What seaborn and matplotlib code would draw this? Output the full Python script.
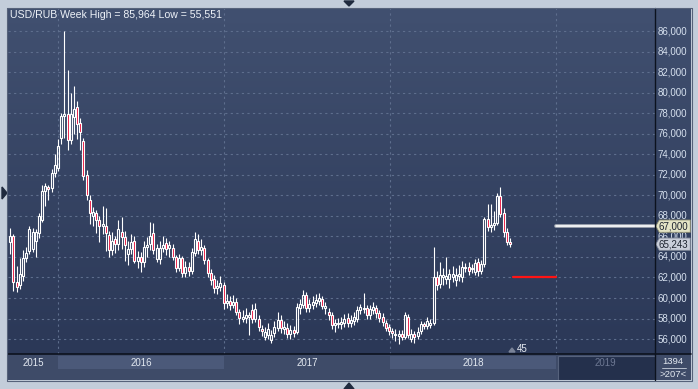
import numpy as np
import pandas as pd
import matplotlib
matplotlib.use("Agg")
import matplotlib.pyplot as plt
import matplotlib.dates as mdates
from matplotlib.colors import LinearSegmentedColormap
from matplotlib.patches import Polygon
from matplotlib.lines import Line2D
import seaborn as sns

# ---------------- data ----------------
start_date = "2015-09-18"
opens = [65.5, 66.0, 61.6, 61.3, 62.1, 63.9, 64.6, 64.8, 65.6, 66.3,
         67.6, 70.4, 70.8, 70.7, 72.2, 72.7, 75.6, 77.7, 77.9, 75.4,
         77.6, 78.6, 77.0, 75.3, 72.0, 69.5, 68.0, 68.3, 67.6, 67.0,
         67.0, 66.1, 64.7, 65.7, 65.3, 66.4, 65.9, 64.3, 64.8, 65.6,
         63.6, 64.0, 63.5, 65.0, 65.3, 66.3, 63.8, 63.8, 64.9, 65.4,
         64.9, 64.9, 64.0, 62.9, 63.9, 62.4, 63.0, 62.6, 64.4, 65.6,
         64.7, 64.9, 63.7, 62.4, 61.9, 61.0, 61.1, 61.3, 59.5, 59.7,
         59.3, 59.6, 58.6, 58.0, 58.1, 58.2, 58.8, 58.0, 58.0, 57.0,
         56.2, 56.4, 55.9, 56.6, 57.1, 57.9, 57.0, 57.1, 56.5, 56.9,
         56.7, 59.0, 59.3, 60.3, 59.0, 59.3, 59.5, 59.7, 59.9, 59.0,
         58.6, 58.3, 57.4, 57.5, 57.5, 57.6, 58.1, 57.6, 57.8, 58.0,
         58.8, 58.9, 59.0, 58.3, 58.8, 59.0, 58.5, 58.2, 57.6, 57.2,
         56.8, 56.4, 56.3, 56.5, 56.2, 58.2, 56.0, 56.5, 56.3, 56.8,
         57.5, 57.3, 57.4, 57.6, 62.0, 61.4, 62.0, 61.9, 61.9, 62.0,
         61.8, 62.1, 62.0, 62.9, 63.0, 62.8, 62.5, 63.5, 62.6, 63.3,
         67.7, 66.9, 67.1, 67.3, 69.9, 68.3, 66.4, 65.5]
highs = [66.8, 66.2, 63.1, 63.9, 64.7, 65.0, 67.0, 66.8, 66.7, 68.3,
         71.0, 71.2, 71.0, 72.6, 74.0, 75.5, 78.0, 85.964, 82.2, 80.0,
         80.6, 79.2, 77.5, 75.6, 72.5, 70.0, 68.9, 68.6, 68.0, 69.0,
         68.8, 66.5, 66.4, 66.0, 67.6, 67.9, 66.5, 65.6, 66.2, 66.0,
         64.6, 64.5, 65.6, 65.9, 67.4, 67.3, 65.3, 65.6, 66.0, 65.8,
         65.6, 65.3, 64.2, 64.3, 64.1, 63.6, 63.5, 64.9, 66.4, 66.2,
         65.7, 65.2, 63.9, 62.8, 62.2, 61.8, 62.1, 61.6, 60.4, 60.2,
         60.3, 60.0, 58.9, 58.8, 59.0, 58.6, 59.4, 59.5, 58.3, 57.4,
         57.2, 57.6, 56.9, 57.8, 58.6, 58.3, 57.8, 57.6, 57.4, 57.3,
         59.5, 59.9, 60.8, 60.6, 59.9, 60.2, 60.4, 60.5, 60.2, 59.6,
         59.0, 58.6, 58.0, 58.1, 58.2, 58.4, 58.5, 58.3, 58.6, 59.2,
         59.4, 60.5, 59.3, 59.3, 59.6, 59.3, 58.8, 58.5, 57.9, 57.5,
         57.1, 57.0, 56.9, 56.9, 58.6, 58.4, 57.0, 56.8, 57.2, 57.8,
         57.7, 58.2, 58.0, 65.0, 62.6, 63.5, 62.9, 64.0, 62.8, 63.1,
         62.9, 63.2, 63.6, 63.4, 63.5, 63.3, 63.8, 63.9, 63.7, 67.9,
         69.2, 69.2, 68.5, 70.2, 70.8, 68.8, 66.8, 65.8]
lows = [64.3, 60.7, 60.6, 60.9, 61.7, 63.5, 64.3, 64.5, 64.0, 65.8,
        67.4, 69.0, 69.5, 70.3, 71.8, 72.4, 75.0, 75.6, 74.4, 75.0,
        76.0, 75.5, 74.4, 71.5, 69.5, 67.2, 67.0, 66.3, 65.5, 66.2,
        64.6, 64.0, 64.2, 64.4, 64.7, 64.8, 63.6, 63.2, 64.3, 63.4,
        62.9, 62.5, 63.0, 64.0, 64.7, 64.3, 63.5, 63.3, 64.5, 64.2,
        64.0, 63.7, 62.5, 62.6, 62.0, 62.0, 62.1, 62.3, 64.1, 64.3,
        64.2, 63.3, 62.0, 61.3, 60.5, 60.4, 60.7, 58.9, 59.0, 58.8,
        59.0, 58.3, 57.5, 57.7, 57.6, 56.4, 57.6, 57.7, 56.8, 56.3,
        55.9, 56.0, 55.6, 56.2, 56.8, 56.6, 56.5, 56.1, 56.0, 56.2,
        56.5, 58.4, 59.0, 58.6, 58.6, 58.9, 59.1, 59.3, 58.9, 58.4,
        57.9, 57.0, 56.7, 57.1, 57.0, 57.2, 57.2, 57.2, 57.4, 57.7,
        58.4, 58.5, 58.0, 58.0, 58.4, 58.1, 57.7, 57.3, 56.8, 56.4,
        56.1, 55.8, 55.551, 55.9, 56.0, 56.1, 55.7, 55.6, 56.0, 56.5,
        57.0, 57.0, 57.1, 57.4, 60.8, 61.0, 61.3, 61.4, 61.0, 61.6,
        61.2, 61.7, 61.6, 62.5, 62.2, 62.4, 62.2, 62.1, 62.3, 63.0,
        66.5, 66.4, 66.6, 67.1, 67.9, 65.9, 65.2, 65.0]
closes = [66.0, 61.6, 61.1, 62.3, 63.9, 64.4, 66.7, 66.4, 66.4, 68.0,
          70.4, 70.9, 70.6, 72.2, 73.0, 74.8, 77.7, 77.9, 75.4, 77.9,
          78.4, 76.9, 76.2, 71.9, 70.0, 68.3, 68.4, 67.6, 67.0, 67.2,
          66.3, 64.7, 65.6, 65.3, 66.7, 65.9, 65.2, 64.8, 65.5, 63.6,
          64.0, 63.5, 65.0, 65.2, 66.0, 64.7, 64.9, 64.9, 65.2, 64.8,
          65.2, 64.0, 62.9, 63.9, 62.4, 63.0, 62.6, 64.5, 65.7, 64.7,
          65.0, 63.7, 62.4, 61.8, 61.0, 61.2, 61.5, 59.5, 59.7, 59.3,
          59.6, 58.6, 58.1, 58.2, 58.3, 58.3, 58.0, 58.9, 57.2, 56.8,
          56.7, 57.0, 56.4, 57.2, 57.9, 57.1, 57.2, 56.5, 56.9, 56.6,
          59.1, 59.4, 60.3, 59.0, 59.4, 59.6, 59.8, 60.0, 59.2, 59.2,
          58.3, 57.4, 57.6, 57.6, 57.7, 58.0, 57.6, 57.9, 58.2, 58.8,
          59.1, 59.0, 58.3, 58.9, 59.1, 58.5, 58.1, 57.7, 57.1, 56.8,
          56.6, 56.5, 56.5, 56.2, 58.3, 56.4, 56.5, 56.2, 56.7, 57.5,
          57.3, 57.8, 57.6, 62.0, 61.3, 62.2, 62.2, 62.1, 62.3, 62.3,
          62.2, 62.3, 63.0, 63.0, 62.6, 62.9, 63.4, 62.6, 63.3, 67.7,
          66.9, 67.1, 67.3, 69.9, 68.2, 66.4, 65.5, 65.243]

price_ticks = [56, 58, 60, 62, 64, 66, 68, 70, 72, 74, 76, 78, 80, 82, 84, 86]
year_names = ["2015", "2016", "2017", "2018", "2019"]
year_starts = ["2016-01-01", "2017-01-01", "2018-01-01", "2019-01-01"]
view_start, view_end = "2015-09-13", "2019-08-06"
level_red = {"start": "2018-09-28", "end": "2019-01-01", "price": 62.0}
level_white = {"start": "2019-01-01", "end": "2019-09-01", "price": 67.0}
last_price = 65.243
title = "USD/RUB Week High = 85,964 Low = 55,551"

# ---------------- figure ----------------
sns.set_theme(style="dark")
plt.rcParams["font.family"] = ["Liberation Sans", "DejaVu Sans"]

W, H = 698, 389
fig = plt.figure(figsize=(W / 100, H / 100), dpi=100)
fig.patch.set_facecolor("#c3cdda")


def fr(x0, y0, x1, y1):
    return [x0 / W, 1 - y1 / H, (x1 - x0) / W, (y1 - y0) / H]


def fx(x):
    return x / W


def fy(y):
    return 1 - y / H


ylo, yhi = 54.55, 88.24
x0n = mdates.date2num(pd.Timestamp(view_start))
x1n = mdates.date2num(pd.Timestamp(view_end))
bg = LinearSegmentedColormap.from_list("bg", ["#2b3857", "#415070"])
grad = np.linspace(0, 1, 256).reshape(-1, 1)

ax = fig.add_axes(fr(8, 8, 655, 354))
ax.imshow(grad, extent=[0, 1, 0, 1], transform=ax.transAxes, origin="lower",
          cmap=bg, aspect="auto", zorder=0)

df = pd.DataFrame({
    "date": pd.date_range(start_date, periods=len(closes), freq="7D"),
    "open": opens, "high": highs, "low": lows, "close": closes,
})
x = mdates.date2num(df["date"])
o = df["open"].to_numpy(); c = df["close"].to_numpy()
hi = df["high"].to_numpy(); lo = df["low"].to_numpy()
btop = np.maximum(o, c); bbot = np.minimum(o, c)
up = c >= o

ax.vlines(x, btop, hi, color="white", lw=0.8, zorder=3)
ax.vlines(x, lo, bbot, color="white", lw=0.8, zorder=3)
bw = 4.4
ax.bar(x[up], (btop - bbot)[up], bottom=bbot[up], width=bw, facecolor="none",
       edgecolor="white", linewidth=0.8, zorder=4)
ax.bar(x[~up], (btop - bbot)[~up], bottom=bbot[~up], width=bw, facecolor="#e8123c",
       edgecolor="white", linewidth=0.8, zorder=4)

red_df = pd.DataFrame({"x": mdates.date2num(pd.to_datetime([level_red["start"], level_red["end"]])),
                       "y": [level_red["price"]] * 2})
wh_df = pd.DataFrame({"x": mdates.date2num(pd.to_datetime([level_white["start"], level_white["end"]])),
                      "y": [level_white["price"]] * 2})
sns.lineplot(data=red_df, x="x", y="y", color="#ff1414", lw=1.6, ax=ax, zorder=5)
sns.lineplot(data=wh_df, x="x", y="y", color="#9aa1ad", lw=2.8, ax=ax, zorder=5)
sns.lineplot(data=wh_df, x="x", y="y", color="#ffffff", lw=1.2, ax=ax, zorder=6)

ax.set_xlim(x0n, x1n)
ax.set_ylim(ylo, yhi)
ax.set_yticks(price_ticks)
ax.set_xticks(mdates.date2num(pd.to_datetime(year_starts)))
ax.grid(True, color="#5e6e8d", linestyle=(0, (2, 3)), linewidth=0.8)
ax.tick_params(length=0, labelleft=False, labelbottom=False)
ax.set_xlabel(""); ax.set_ylabel("")
for s in ax.spines.values():
    s.set_visible(False)

# "45" marker
fig.text(fx(517), fy(349), "45", fontsize=7, color="#e6ebf2", va="center", ha="left")
fig.patches.append(Polygon([(fx(509), fy(352)), (fx(515), fy(352)), (fx(512), fy(348))],
                           closed=True, transform=fig.transFigure, color="#7a8398"))

# title
fig.text(fx(10), fy(15), title, fontsize=7.6, color="#eef2f8", va="center", ha="left")

# price axis panel
axr = fig.add_axes(fr(655, 8, 691, 354))
axr.imshow(grad, extent=[0, 1, 0, 1], transform=axr.transAxes, origin="lower",
           cmap=bg, aspect="auto", zorder=0)
axr.set_xlim(0, 1); axr.set_ylim(ylo, yhi)
axr.set_xticks([]); axr.set_yticks([])
for s in axr.spines.values():
    s.set_visible(False)
for v in price_ticks:
    axr.text(0.07, v, f"{v},000", fontsize=7, color="#d6e0ee", va="center", ha="left", zorder=2)

tr = axr.get_yaxis_transform()
for val, face, edge, txt in [(level_white["price"], "#e4e4c6", "#8c8c70", "67,000"),
                             (last_price, "#c9ceda", "#7c8494", "65,243")]:
    poly = Polygon([(0.02, val), (0.12, val + 0.6), (0.98, val + 0.6),
                    (0.98, val - 0.6), (0.12, val - 0.6)], closed=True,
                   transform=tr, facecolor=face, edgecolor=edge, lw=0.6, zorder=3)
    axr.add_patch(poly)
    axr.text(0.1, val, txt, transform=tr, fontsize=7, color="#1e2430",
             va="center", ha="left", zorder=4)

# time bar
axb = fig.add_axes(fr(8, 354, 655, 380))
axb.set_facecolor("#3e4b68")
axb.set_xlim(x0n, x1n); axb.set_ylim(0, 1)
ys = mdates.date2num(pd.to_datetime(year_starts))
axb.axvspan(ys[0], ys[1], ymin=0.42, ymax=0.92, color="#4b5979", lw=0)
axb.axvspan(ys[2], ys[3], ymin=0.42, ymax=0.92, color="#4b5979", lw=0)
axb.axvspan(ys[3] + 3, x1n, ymin=0.0, ymax=0.92, facecolor="#24304c", edgecolor="#56627c", lw=0.8)
bounds = [x0n] + list(ys) + [x1n]
for i, name in enumerate(year_names):
    mid = (bounds[i] + bounds[i + 1]) / 2
    col = "#6c7792" if name == "2019" else "#e2e8f0"
    axb.text(mid, 0.67, name, fontsize=7, color=col, ha="center", va="center")
axb.set_xticks([]); axb.set_yticks([])
for s in axb.spines.values():
    s.set_visible(False)

# corner cell
axc = fig.add_axes(fr(655, 354, 691, 380))
axc.set_facecolor("#3e4b68")
axc.set_xlim(0, 1); axc.set_ylim(0, 1)
axc.text(0.5, 0.7, "1394", fontsize=6.8, color="#e2e8f0", ha="center", va="center")
axc.plot([0.2, 0.85], [0.45, 0.45], color="#c8d0dc", lw=0.6)
axc.text(0.5, 0.22, ">207<", fontsize=6.8, color="#e2e8f0", ha="center", va="center")
axc.set_xticks([]); axc.set_yticks([])
for s in axc.spines.values():
    s.set_visible(False)

# frame lines
def fline(xs, ys_, col, lw):
    fig.add_artist(Line2D([fx(v) for v in xs], [fy(v) for v in ys_], color=col, lw=lw,
                          transform=fig.transFigure))

fline([8, 691], [354, 354], "#0c121e", 1.2)
fline([655, 655], [8, 380], "#0c121e", 1.0)
fline([7.5, 691.5, 691.5, 7.5, 7.5], [7.5, 7.5, 380.5, 380.5, 7.5], "#56627a", 0.8)

# small navigation triangles
for pts in ([(344, 1), (354, 1), (349, 6)],
            [(344, 389), (354, 389), (349, 383)],
            [(2, 187), (2, 199), (7, 193)]):
    fig.patches.append(Polygon([(fx(a), fy(b)) for a, b in pts], closed=True,
                               transform=fig.transFigure, color="#1f2a3e"))

fig.savefig("out.png", dpi=100, facecolor=fig.get_facecolor())
